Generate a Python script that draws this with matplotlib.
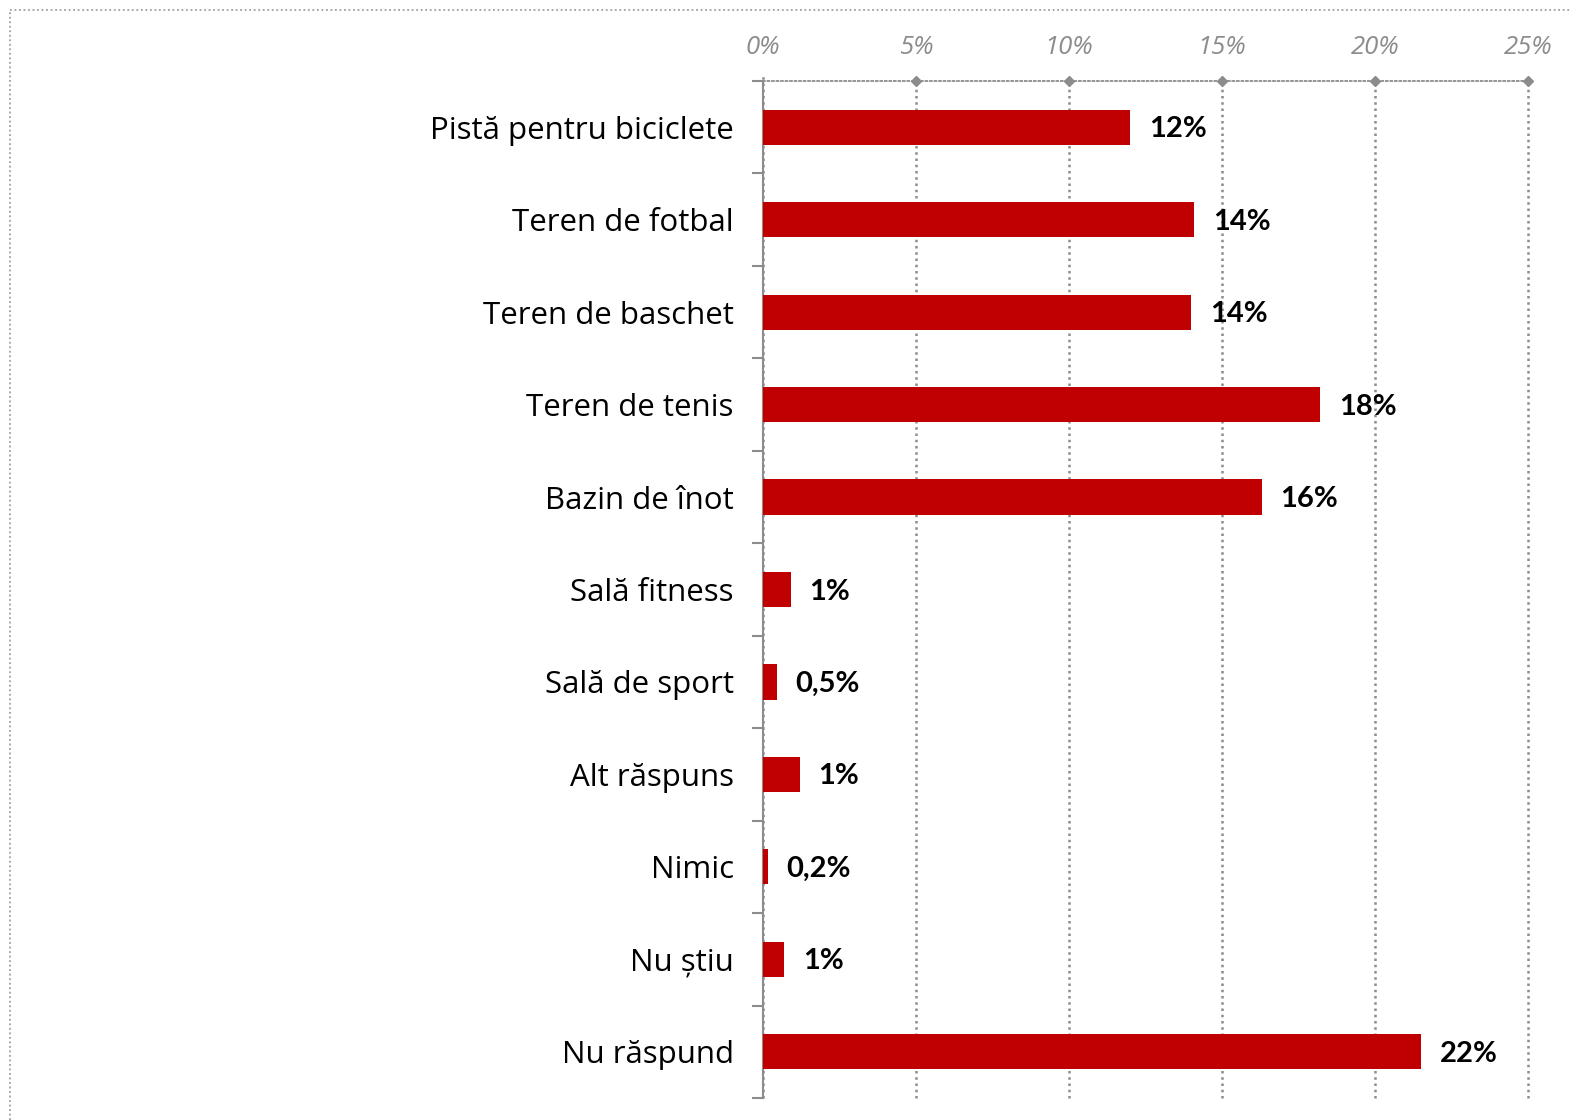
import matplotlib
matplotlib.use('Agg')
import matplotlib.pyplot as plt
from matplotlib.lines import Line2D

categories = ['Pistă pentru biciclete', 'Teren de fotbal', 'Teren de baschet', 'Teren de tenis',
              'Bazin de înot', 'Sală fitness', 'Sală de sport', 'Alt răspuns', 'Nimic',
              'Nu știu', 'Nu răspund']
values = [12.0, 14.1, 14.0, 18.2, 16.3, 0.9, 0.45, 1.2, 0.15, 0.7, 21.5]
value_labels = ['12%', '14%', '14%', '18%', '16%', '1%', '0,5%', '1%', '0,2%', '1%', '22%']
x_ticks = [0, 5, 10, 15, 20, 25]
x_tick_labels = ['0%', '5%', '10%', '15%', '20%', '25%']

W, H = 1570, 1120
fig = plt.figure(figsize=(W / 100, H / 100), dpi=100)
ax = fig.add_axes([763 / W, 1 - 1098 / H, (1528 - 763) / W, (1098 - 81) / H])

gray = '#8c8c8c'
red = '#c00000'

n = len(categories)
ypos = list(range(n))
ax.barh(ypos, values, height=0.38, color=red, zorder=3)
ax.set_ylim(n - 0.5, -0.5)
ax.set_xlim(0, 25)

# value labels
for y, v, lab in zip(ypos, values, value_labels):
    ax.annotate(lab, (v, y), xytext=(13.5, -1.5), textcoords='offset points',
                ha='left', va='center', fontsize=21, fontweight='bold',
                family='Lato', color='black')

# y axis: boundary ticks + category labels
ax.set_yticks([i - 0.5 for i in range(n + 1)])
ax.set_yticklabels([])
ax.set_yticks(ypos, minor=True)
ax.set_yticklabels(categories, minor=True, fontsize=22.5, family='Open Sans')
ax.tick_params(axis='y', which='major', length=8, width=1.5, color=gray, direction='out')
ax.tick_params(axis='y', which='minor', length=0, pad=21)

# x axis on top
ax.xaxis.tick_top()
ax.set_xticks(x_ticks)
ax.set_xticklabels(x_tick_labels, fontsize=18.5, style='italic', color=gray, family='Open Sans')
ax.tick_params(axis='x', length=0, pad=15)

for s in ['right', 'bottom']:
    ax.spines[s].set_visible(False)
ax.spines['left'].set_color(gray)
ax.spines['left'].set_linewidth(1.5)
ax.spines['top'].set_color(gray)
ax.spines['top'].set_linestyle((0, (1, 1.5)))
ax.spines['top'].set_linewidth(1.3)

# dotted gridlines, slightly extending above the top axis
for xt in x_ticks:
    ax.plot([xt, xt], [n - 0.5, -0.58], color=gray, lw=1.8, ls=(0, (1, 1.5)),
            clip_on=False, zorder=1)
    if xt > 0:
        ax.plot([xt], [-0.5], marker='D', ms=5, color=gray, clip_on=False, zorder=4)

# dotted outer border
fig.add_artist(Line2D([10 / W, 10 / W], [0, 1 - 10 / H], transform=fig.transFigure,
                      color='#a0a0a0', lw=1.3, ls=(0, (1, 1.5))))
fig.add_artist(Line2D([10 / W, 1], [1 - 10 / H, 1 - 10 / H], transform=fig.transFigure,
                      color='#a0a0a0', lw=1.3, ls=(0, (1, 1.5))))

fig.savefig('out.png', dpi=100)
